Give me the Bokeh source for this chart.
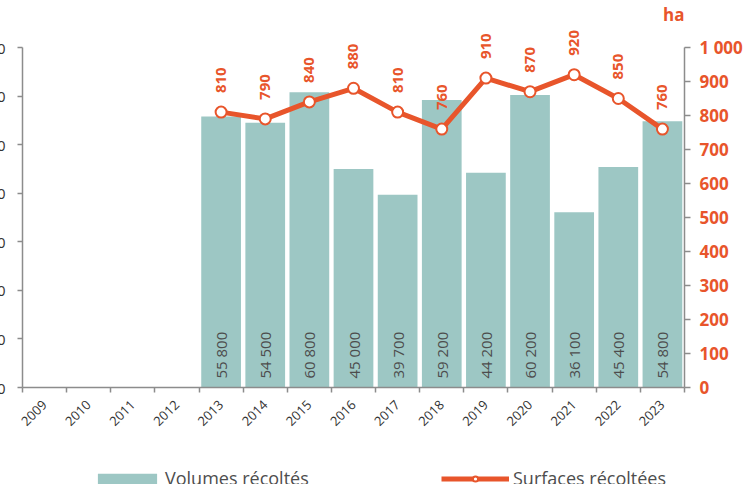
import math
import numpy as np
from bokeh.plotting import figure
from bokeh.layouts import column
from bokeh.models import (Range1d, LinearAxis, FixedTicker, ColumnDataSource,
                          LabelSet, Legend, LegendItem, Title)
from bokeh.embed import file_html
from bokeh.resources import INLINE
from bokeh.core.properties import value

# ---- data ----
years = ["2009", "2010", "2011", "2012", "2013", "2014", "2015", "2016",
         "2017", "2018", "2019", "2020", "2021", "2022", "2023"]
bar_years = ["2013", "2014", "2015", "2016", "2017", "2018", "2019",
             "2020", "2021", "2022", "2023"]
volumes = [55800, 54500, 60800, 45000, 39700, 59200, 44200, 60200, 36100, 45400, 54800]
surfaces = [810, 790, 840, 880, 810, 760, 910, 870, 920, 850, 760]
left_ticks = [0, 10000, 20000, 30000, 40000, 50000, 60000, 70000]
right_ticks = [0, 100, 200, 300, 400, 500, 600, 700, 800, 900, 1000]


def fr(n):
    return f"{n:,}".replace(",", " ")


FONT = "Open Sans"
TEAL = "#9dc7c4"
ORANGE = "#e8552b"
AXIS = "#8c8c8c"
SHIFT = 60          # left part of the chart lies outside the window (cropped reference)
W = 753 + SHIFT
TOP_H, MAIN_H, LEG_H = 26, 424, 34
FRAME_H = 361       # plot frame height (pixels)
SCALE = FRAME_H / 340.0   # 70 000 / 1 000 sit 340 px above zero

src = ColumnDataSource(dict(
    x=[years.index(y) + 0.5 for y in bar_years],
    vol=volumes,
    vol_txt=[fr(v) for v in volumes],
    surf=surfaces,
    surf_txt=[str(s) for s in surfaces],
))


def strip(h):
    f = figure(width=W, height=h, x_range=Range1d(0, 1), y_range=Range1d(0, 1),
               output_backend="svg", toolbar_location=None,
               x_axis_location=None, y_axis_location=None,
               min_border_left=0, min_border_right=0, min_border_top=0,
               min_border_bottom=0, outline_line_color=None)
    f.grid.visible = False
    return f


# ---- top strip with the unit of the right axis ----
top = strip(TOP_H)
top.add_layout(Title(text="ha", align="right", standoff=0,
                     text_font=FONT, text_font_size="17px",
                     text_font_style="bold", text_color=ORANGE), "above")

# ---- main chart ----
p = figure(width=W, height=MAIN_H, x_range=Range1d(0, len(years)),
           y_range=Range1d(0, 70000 * SCALE),
           output_backend="svg", toolbar_location=None,
           min_border_left=22 + SHIFT, min_border_right=69, min_border_top=0,
           min_border_bottom=MAIN_H - FRAME_H, outline_line_color=None)
p.extra_y_ranges = {"ha": Range1d(0, 1000 * SCALE)}
p.grid.visible = False

xa = p.xaxis[0]
xa.ticker = FixedTicker(ticks=[i + 0.5 for i in range(len(years))],
                        minor_ticks=list(range(len(years) + 1)))
xa.major_label_overrides = {i + 0.5: y for i, y in enumerate(years)}
xa.major_tick_out = 0
xa.major_tick_in = 0
xa.minor_tick_out = 5
xa.minor_tick_in = 0
xa.minor_tick_line_color = AXIS
xa.minor_tick_line_width = 1.5
xa.axis_line_color = AXIS
xa.axis_line_width = 1.5
xa.major_label_orientation = math.pi / 4
xa.major_label_text_font = FONT
xa.major_label_text_font_size = "13px"
xa.major_label_text_color = "#333333"
xa.major_label_standoff = 10

ya = p.yaxis[0]
ya.ticker = FixedTicker(ticks=left_ticks)
ya.bounds = (0, 70000)
ya.major_label_overrides = {t: fr(t) for t in left_ticks}
ya.major_label_text_font = FONT
ya.major_label_text_font_size = "15px"
ya.major_label_text_color = "#333333"
ya.major_label_standoff = 12
ya.major_tick_out = 5
ya.major_tick_in = 0
ya.minor_tick_out = 0
ya.minor_tick_in = 0
ya.axis_line_color = AXIS
ya.axis_line_width = 1.5
ya.major_tick_line_color = AXIS
ya.major_tick_line_width = 1.5

ra = LinearAxis(y_range_name="ha", ticker=FixedTicker(ticks=right_ticks),
                bounds=(0, 1000))
ra.major_label_overrides = {t: fr(t) for t in right_ticks}
ra.major_tick_out = 6
ra.major_tick_in = 0
ra.minor_tick_out = 0
ra.minor_tick_in = 0
ra.axis_line_color = AXIS
ra.axis_line_width = 1.5
ra.major_tick_line_color = AXIS
ra.major_tick_line_width = 1.5
ra.major_label_text_font = FONT
ra.major_label_text_font_size = "17px"
ra.major_label_text_font_style = "bold"
ra.major_label_text_color = ORANGE
ra.major_label_standoff = 9
p.add_layout(ra, "right")

bars = p.vbar(x="x", top="vol", width=0.9, source=src, fill_color=TEAL,
              line_color=None)
p.add_layout(LabelSet(x="x", y=0, text="vol_txt", source=src, angle=math.pi / 2,
                      y_offset=9, text_align="left", text_baseline="middle",
                      text_font=value(FONT), text_font_size=value("15px"),
                      text_color="#4d4d4d"))

ln = p.line(x="x", y="surf", source=src, y_range_name="ha", line_width=5,
            line_color=ORANGE)
pts = p.scatter(x="x", y="surf", source=src, y_range_name="ha", size=11,
                fill_color="white", line_color=ORANGE, line_width=2)
p.add_layout(LabelSet(x="x", y="surf", text="surf_txt", source=src,
                      y_range_name="ha", angle=math.pi / 2, y_offset=19,
                      text_align="left", text_baseline="middle",
                      text_font=value(FONT), text_font_size=value("15px"),
                      text_font_style="bold", text_color=ORANGE))

# ---- legend strip (same styles as the series above; no marks drawn) ----
leg = strip(LEG_H)
blank = ColumnDataSource(dict(x=np.array([np.nan]), y=np.array([np.nan])))
lb = leg.vbar(x="x", top="y", width=0.9, source=blank, fill_color=TEAL,
              line_color=None)
ll = leg.line(x="x", y="y", source=blank, line_width=5, line_color=ORANGE)
lp = leg.scatter(x="x", y="y", source=blank, size=10, fill_color="white",
                 line_color=ORANGE, line_width=2)
common = dict(padding=0, margin=0, border_line_color=None,
              background_fill_alpha=0, label_text_font=FONT,
              label_text_font_size="18px", label_text_color="#4d4d4d",
              label_height=13, glyph_height=13)
leg.add_layout(Legend(items=[LegendItem(label="Volumes récoltés", renderers=[lb])],
                      location=(68, -6), glyph_width=74, label_standoff=1,
                      **common))
leg.add_layout(Legend(items=[LegendItem(label="Surfaces récoltées", renderers=[ll, lp])],
                      location=(419, -6), glyph_width=68, label_standoff=4,
                      **common))

layout = column(top, p, leg, spacing=0)
layout.styles = {"margin-left": f"-{SHIFT}px"}

open("out.html", "w").write(file_html(layout, INLINE))
